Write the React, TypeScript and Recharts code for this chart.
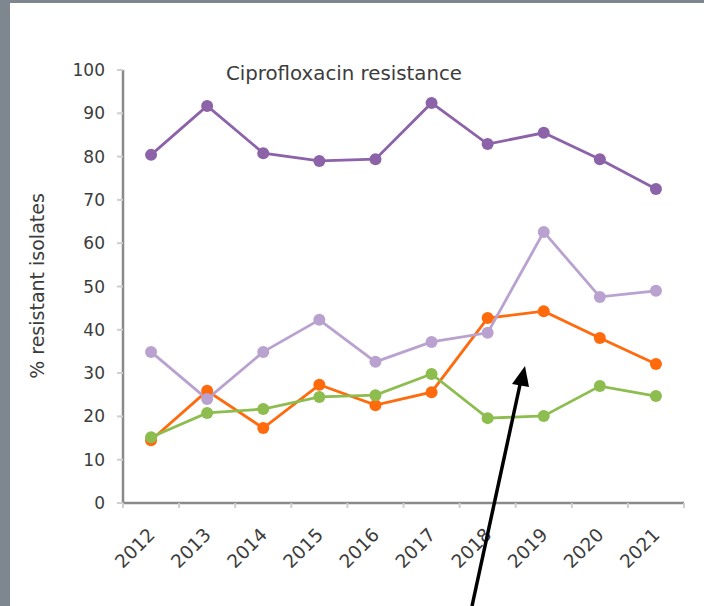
import React from 'react'
import { LineChart, Line, XAxis, YAxis } from 'recharts'

const years = ['2012', '2013', '2014', '2015', '2016', '2017', '2018', '2019', '2020', '2021']
const darkPurple = [80.4, 91.7, 80.8, 79.0, 79.4, 92.4, 82.9, 85.5, 79.4, 72.5]
const lightPurple = [34.9, 24.0, 34.9, 42.3, 32.6, 37.2, 39.3, 62.6, 47.6, 49.0]
const orange = [14.5, 25.9, 17.3, 27.3, 22.6, 25.6, 42.7, 44.3, 38.1, 32.1]
const green = [15.2, 20.8, 21.7, 24.5, 24.9, 29.8, 19.6, 20.1, 27.0, 24.7]
const yTicks = [0, 10, 20, 30, 40, 50, 60, 70, 80, 90, 100]

const data = years.map((year, i) => ({
  i,
  year,
  darkPurple: darkPurple[i],
  lightPurple: lightPurple[i],
  orange: orange[i],
  green: green[i],
}))

const centerTicks = years.map((_, i) => i)
const boundaryTicks = [...years.map((_, i) => i - 0.5), years.length - 0.5]

const FONT = '"DejaVu Sans", sans-serif'
const TEXT = '#3c3c3c'

const YearTick = ({ x, y, payload }: { x?: number; y?: number; payload?: { value: number } }) => {
  const label = years[payload?.value ?? 0]
  return (
    <g transform={`translate(${(x ?? 0) + 5},${(y ?? 0) + 30}) rotate(-45)`}>
      <text x={0} y={0} textAnchor="end" fill={TEXT} fontSize={18.5} fontFamily={FONT}>
        {label}
      </text>
    </g>
  )
}

const NoTick = () => <g />

const series = [
  { key: 'orange', color: '#ff6a0d' },
  { key: 'green', color: '#8cbd4e' },
  { key: 'lightPurple', color: '#b9a2cf' },
  { key: 'darkPurple', color: '#8c62a8' },
]

export default function App() {
  return (
    <div style={{ position: 'absolute', left: 0, top: 0, width: 704, height: 606, background: '#7e8690', overflow: 'hidden' }}>
      <div style={{ position: 'absolute', left: 10, top: 3, right: 0, bottom: 0, background: '#ffffff' }} />
      <div style={{ position: 'absolute', left: 0, top: 0 }}>
        <LineChart width={704} height={606} data={data} margin={{ top: 70, right: 20, bottom: 0, left: 0 }}>
          <XAxis
            xAxisId="grid"
            dataKey="i"
            type="number"
            domain={[-0.5, 9.5]}
            ticks={boundaryTicks}
            height={1}
            tick={<NoTick />}
            tickSize={5}
            tickLine={{ stroke: '#cfcfcf', strokeWidth: 2 }}
            axisLine={{ stroke: '#8a8a8a', strokeWidth: 2.5 }}
          />
          <XAxis
            xAxisId="lab"
            dataKey="i"
            type="number"
            domain={[-0.5, 9.5]}
            ticks={centerTicks}
            height={102}
            tick={<YearTick />}
            tickLine={false}
            axisLine={false}
            tickSize={0}
            interval={0}
          />
          <YAxis
            domain={[0, 100]}
            ticks={yTicks}
            width={123}
            interval={0}
            tick={{ fill: TEXT, fontSize: 17, fontFamily: FONT }}
            tickSize={6}
            tickMargin={12}
            tickLine={{ stroke: '#cfcfcf', strokeWidth: 2 }}
            axisLine={{ stroke: '#8a8a8a', strokeWidth: 2.5 }}
          />
          {series.map((s) => (
            <Line
              key={s.key}
              xAxisId="lab"
              dataKey={s.key}
              type="linear"
              stroke={s.color}
              strokeWidth={2.8}
              dot={{ r: 6, fill: s.color, stroke: 'none' }}
              activeDot={false}
              isAnimationActive={false}
            />
          ))}
        </LineChart>
      </div>
      <svg width={704} height={606} style={{ position: 'absolute', left: 0, top: 0, pointerEvents: 'none' }}>
        <text x={344} y={80} textAnchor="middle" fill={TEXT} fontSize={19.8} fontFamily={FONT}>
          Ciprofloxacin resistance
        </text>
        <text
          x={37}
          y={286}
          textAnchor="middle"
          dominantBaseline="central"
          transform="rotate(-90 37 286)"
          fill={TEXT}
          fontSize={19}
          fontFamily={FONT}
        >
          % resistant isolates
        </text>
        {/* annotation arrow */}
        <line x1={472} y1={606} x2={521} y2={380} stroke="#000" strokeWidth={3.5} />
        <polygon points="525,366 512,384 529,387" fill="#000" />
      </svg>
    </div>
  )
}
